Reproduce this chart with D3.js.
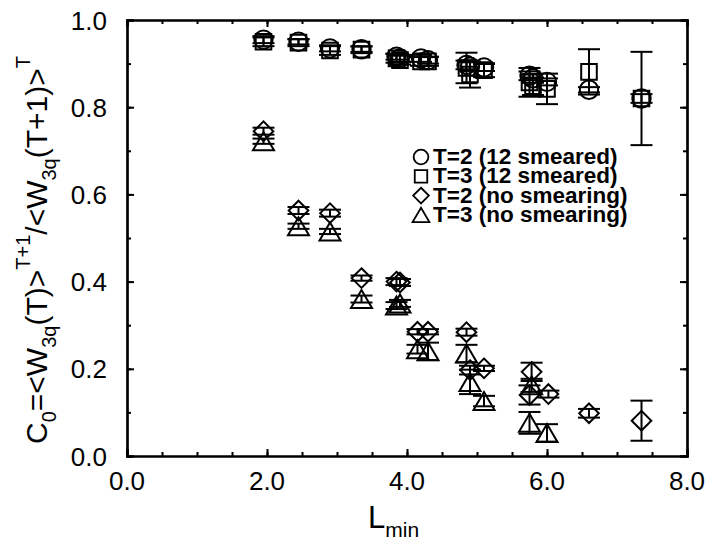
<!DOCTYPE html>
<html><head><meta charset="utf-8">
<script src="https://cdn.jsdelivr.net/npm/d3@7"></script>
<style>body{margin:0;background:#fff}svg{display:block}text{font-family:Arial,"Liberation Sans",Helvetica,sans-serif}</style>
</head><body>
<svg id="c" width="707" height="542"></svg>
<script>
// ---- data ----
const xTicks = [0, 2, 4, 6, 8];
const yTicks = [0, 0.2, 0.4, 0.6, 0.8, 1.0];

const smT2_L   = [1.95, 2.45, 2.9, 3.35, 3.85, 3.9, 4.2, 4.3, 4.85, 4.9, 5.1, 5.75, 5.8, 6.0, 6.6, 7.35];
const smT2_C   = [0.955, 0.950, 0.935, 0.933, 0.916, 0.912, 0.912, 0.908, 0.897, 0.893, 0.891, 0.872, 0.866, 0.858, 0.840, 0.820];
const smT2_err = [0.008, 0.006, 0.007, 0.006, 0.007, 0.008, 0.008, 0.008, 0.010, 0.010, 0.008, 0.010, 0.010, 0.008, 0.006, 0.010];

const smT3_L   = [1.95, 2.45, 2.9, 3.35, 3.85, 3.9, 4.2, 4.3, 4.85, 4.9, 5.1, 5.75, 5.8, 6.0, 6.6, 7.35];
const smT3_C   = [0.950, 0.948, 0.930, 0.932, 0.912, 0.908, 0.905, 0.905, 0.890, 0.875, 0.885, 0.857, 0.848, 0.842, 0.881, 0.820];
const smT3_err = [0.010, 0.008, 0.010, 0.008, 0.010, 0.010, 0.010, 0.010, 0.035, 0.030, 0.016, 0.033, 0.020, 0.035, 0.052, 0.107];

const nsT2_L   = [1.95, 2.45, 2.9, 3.35, 3.85, 3.9, 4.15, 4.3, 4.85, 4.9, 5.1, 5.78, 5.75, 6.02, 6.6, 7.35];
const nsT2_C   = [0.745, 0.563, 0.557, 0.408, 0.400, 0.398, 0.285, 0.285, 0.284, 0.197, 0.201, 0.193, 0.140, 0.142, 0.098, 0.081];
const nsT2_err = [0.008, 0.008, 0.008, 0.006, 0.008, 0.008, 0.006, 0.006, 0.008, 0.010, 0.006, 0.021, 0.022, 0.008, 0.010, 0.046];

const nsT3_L   = [1.95, 2.45, 2.9, 3.35, 3.85, 3.9, 4.15, 4.3, 4.85, 4.9, 5.1, 5.75, 5.78, 6.0];
const nsT3_C   = [0.722, 0.527, 0.515, 0.360, 0.345, 0.350, 0.245, 0.240, 0.235, 0.170, 0.126, 0.076, 0.162, 0.053];
const nsT3_err = [0.006, 0.006, 0.006, 0.008, 0.008, 0.008, 0.010, 0.020, 0.020, 0.028, 0.012, 0.025, 0.015, 0.020];

const legendLabels = ["T=2 (12 smeared)", "T=3 (12 smeared)", "T=2 (no smearing)", "T=3 (no smearing)"];

// ---- drawing ----
const svg = d3.select("#c");
const x = d3.scaleLinear().domain([0, 8]).range([127, 687]);
const y = d3.scaleLinear().domain([0, 1]).range([456, 20]);
const fmt = d3.format(".1f");

const series = [
  {L: smT2_L, C: smT2_C, e: smT2_err, shape: "circle"},
  {L: smT3_L, C: smT3_C, e: smT3_err, shape: "square"},
  {L: nsT2_L, C: nsT2_C, e: nsT2_err, shape: "diamond"},
  {L: nsT3_L, C: nsT3_C, e: nsT3_err, shape: "triangle"}
];

function shapePath(shape, s) {
  if (shape === "circle") { const r = 9.2*s; return `M${-r},0A${r},${r} 0 1,0 ${r},0A${r},${r} 0 1,0 ${-r},0Z`; }
  if (shape === "square") { const h = 7.8*s; return `M${-h},${-h}H${h}V${h}H${-h}Z`; }
  if (shape === "diamond") { const h = 9.8*s; return `M0,${-h}L${h},0L0,${h}L${-h},0Z`; }
  const w = 10.5*s, h = 9*s; return `M0,${-h}L${w},${h}L${-w},${h}Z`;
}

const plot = svg.append("g");
series.forEach(sr => {
  const pts = sr.L.map((l, i) => ({l, c: sr.C[i], e: sr.e[i]}));
  const g = plot.append("g").attr("fill", "none").attr("stroke", "#000").attr("stroke-width", 2);
  pts.forEach(p => {
    const cx = x(p.l), y1 = y(p.c + p.e), y2 = y(p.c - p.e);
    g.append("line").attr("x1", cx).attr("x2", cx).attr("y1", y1).attr("y2", y2);
    g.append("line").attr("x1", cx - 11).attr("x2", cx + 11).attr("y1", y1).attr("y2", y1);
    g.append("line").attr("x1", cx - 11).attr("x2", cx + 11).attr("y1", y2).attr("y2", y2);
    g.append("path").attr("d", shapePath(sr.shape, 1)).attr("transform", `translate(${cx},${y(p.c)})`);
  });
});

// axes (ticks inward on all sides)
const xMinor = d3.range(0, 8.001, 0.5), yMinor = d3.range(0, 1.001, 0.1);
const ax = svg.append("g");
ax.append("g").attr("transform", "translate(0,456)").call(d3.axisBottom(x).tickValues(xMinor).tickSize(-4).tickFormat(""));
ax.append("g").attr("transform", "translate(0,456)").call(d3.axisBottom(x).tickValues(xTicks).tickSize(-7).tickFormat(""));
ax.append("g").attr("transform", "translate(0,20)").call(d3.axisTop(x).tickValues(xMinor).tickSize(-4).tickFormat(""));
ax.append("g").attr("transform", "translate(0,20)").call(d3.axisTop(x).tickValues(xTicks).tickSize(-7).tickFormat(""));
ax.append("g").attr("transform", "translate(127,0)").call(d3.axisLeft(y).tickValues(yMinor).tickSize(-4).tickFormat(""));
ax.append("g").attr("transform", "translate(127,0)").call(d3.axisLeft(y).tickValues(yTicks).tickSize(-7).tickFormat(""));
ax.append("g").attr("transform", "translate(687,0)").call(d3.axisRight(y).tickValues(yMinor).tickSize(-4).tickFormat(""));
ax.append("g").attr("transform", "translate(687,0)").call(d3.axisRight(y).tickValues(yTicks).tickSize(-7).tickFormat(""));
ax.selectAll(".domain").attr("stroke", "#000").attr("stroke-width", 2.2);
ax.selectAll(".tick line").attr("stroke", "#000").attr("stroke-width", 2);

// tick labels
svg.append("g").selectAll("text").data(xTicks).join("text")
  .attr("x", d => x(d)).attr("y", 490).attr("text-anchor", "middle")
  .attr("font-size", 26).text(d => fmt(d));
svg.append("g").selectAll("text").data(yTicks).join("text")
  .attr("x", 107).attr("y", d => y(d) + 9.5).attr("text-anchor", "end")
  .attr("font-size", 26).text(d => fmt(d));

// x label
const xl = svg.append("text").attr("x", 368).attr("y", 528).attr("font-size", 31);
xl.append("tspan").text("L");
xl.append("tspan").attr("font-size", 21).attr("dy", 9).text("min");

// y label
const yl = svg.append("text").attr("transform", "translate(47,250) rotate(-90)")
  .attr("text-anchor", "middle").attr("font-size", 30);
const parts = [
  ["C", 0], ["0", 1], ["=<W", 0], ["3q", 1], ["(T)>", 0], ["T+1", 2],
  ["/<W", 0], ["3q", 1], ["(T+1)>", 0], ["T", 2]
];
let cur = 0;
parts.forEach(([t, k]) => {
  const target = k === 1 ? 9 : (k === 2 ? -17 : 0);
  yl.append("tspan").attr("dy", target - cur).attr("font-size", k ? 20 : 30).text(t);
  cur = target;
});

// legend
const lg = svg.append("g");
const shapes = ["circle", "square", "diamond", "triangle"];
legendLabels.forEach((lab, i) => {
  const cy = 157 + i * 19.3;
  lg.append("path").attr("d", shapePath(shapes[i], 0.8)).attr("transform", `translate(421,${cy})`)
    .attr("fill", "none").attr("stroke", "#000").attr("stroke-width", 1.8);
  lg.append("text").attr("x", 433).attr("y", cy + 7).attr("font-size", 22.5).attr("font-weight", "bold").text(lab);
});
</script>
</body></html>
